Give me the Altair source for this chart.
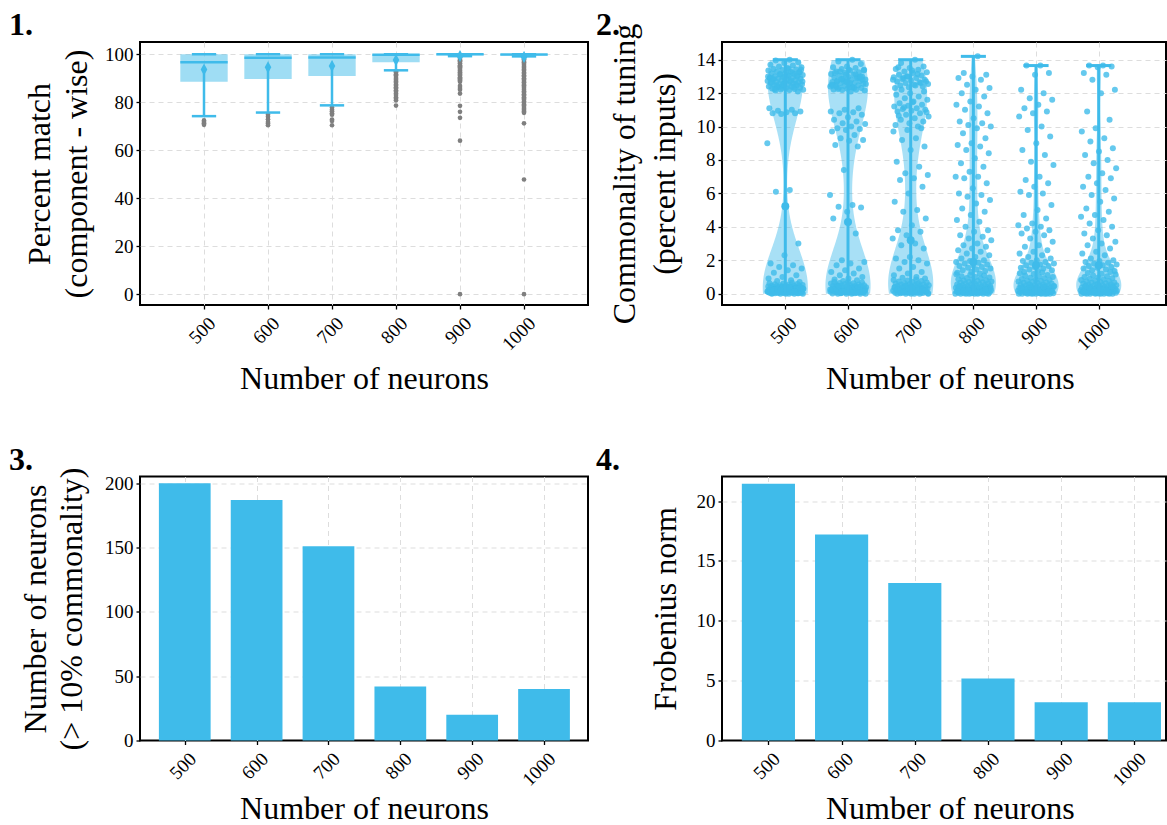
import altair as alt
import pandas as pd

FONT = "Liberation Serif"
BLUE = "#3FBBEA"
GRAY = "#7F7F7F"

NEURONS = [500, 600, 700, 800, 900, 1000]
PANEL_LABELS = ["1.", "2.", "3.", "4."]
X_TITLE = "Number of neurons"
P1_Y_TITLE = ["Percent match", "(component - wise)"]
P2_Y_TITLE = ["Commonality of tuning", "(percent inputs)"]
P3_Y_TITLE = ["Number of neurons", "(> 10% commonality)"]
P4_Y_TITLE = "Frobenius norm"

P1_TICKS = [0, 20, 40, 60, 80, 100]
P2_TICKS = [0, 2, 4, 6, 8, 10, 12, 14]
P3_TICKS = [0, 50, 100, 150, 200]
P4_TICKS = [0, 5, 10, 15, 20]

# ---------------- Panel 1: box plot summary (percent match) ----------------
P1_Q1 = [88.5, 89.7, 90.9, 96.7, 99.6, 99.5]
P1_Q3 = [100.0, 100.0, 100.0, 100.0, 100.0, 100.0]
P1_MEDIAN = [96.7, 98.5, 98.6, 99.8, 100.0, 99.9]
P1_MEAN = [93.6, 94.6, 95.1, 97.6, 99.3, 98.9]
P1_WHISKER_LO = [74.2, 75.7, 78.7, 93.3, 99.2, 99.1]
P1_WHISKER_HI = [100.0, 100.0, 100.0, 100.0, 100.0, 100.0]
P1_OUT_500 = [72.4, 71.8, 71.2, 70.6]
P1_OUT_600 = [74.8, 73.9, 72.9, 71.8, 71.1, 70.4]
P1_OUT_700 = [77.8, 76.9, 76.2, 75.4, 74.8, 72.8, 72.2, 70.4]
P1_OUT_800 = [92.9, 92.4, 91.7, 91.2, 90.5, 89.8, 89.3, 88.6, 88.1, 87.4, 86.9,
              86.2, 85.7, 85.0, 84.4, 83.6, 83.0, 82.1, 81.5, 80.8, 78.6]
P1_OUT_900 = [99.0, 98.6, 98.0, 97.5, 97.1, 96.4, 96.0, 95.4, 95.0, 94.6, 94.0,
              93.4, 93.0, 92.5, 91.9, 91.5, 91.0, 90.4, 90.0, 89.5, 89.1, 88.5,
              86.8, 85.9, 85.2, 83.6, 78.5, 76.0, 73.5, 64.0, 0.0]
P1_OUT_1000 = [99.0, 98.4, 97.9, 97.2, 96.7, 96.0, 95.5, 94.8, 94.3, 93.6, 93.1,
               92.4, 91.9, 91.2, 90.7, 90.0, 89.5, 88.8, 88.3, 87.6, 87.1, 86.4,
               85.9, 85.2, 84.6, 84.0, 83.3, 82.8, 82.1, 81.6, 81.0, 80.3, 79.8,
               79.1, 78.6, 78.0, 77.3, 76.8, 76.1, 75.6, 71.2, 47.8, 0.0]
P1_OUTLIERS = [P1_OUT_500, P1_OUT_600, P1_OUT_700, P1_OUT_800, P1_OUT_900, P1_OUT_1000]

# ---------------- Panel 2: commonality of tuning (points per network) ----------------
P2_500 = [14.0, 13.95, 13.85, 13.8, 13.7, 13.65, 13.6, 13.55, 13.5, 13.45, 13.42, 13.38,
          13.35, 13.3, 13.28, 13.25, 13.2, 13.18, 13.15, 13.1, 13.08, 13.05, 13.0, 12.98,
          12.95, 12.92, 12.9, 12.87, 12.85, 12.82, 12.8, 12.78, 12.75, 12.72, 12.7, 12.68,
          12.65, 12.62, 12.6, 12.58, 12.55, 12.52, 12.5, 12.48, 12.45, 12.42, 12.4, 12.38,
          12.35, 12.32, 12.3, 12.28, 12.25, 12.22, 12.2, 12.18, 12.15, 12.1, 12.6, 12.9,
          13.2, 12.4, 13.4, 13.1, 12.85, 12.55, 12.3, 13.0, 12.75, 12.45, 13.25, 12.95,
          12.65, 12.35, 13.15, 12.7, 13.45, 12.25, 13.05, 12.5,
          11.1, 11.0, 10.95, 10.9, 10.85, 10.8, 10.8, 10.75, 9.0, 6.2, 6.1, 3.0, 2.3, 1.8,
          1.7, 1.6, 1.5, 1.4, 1.25, 1.1, 1.0, 0.9, 0.8, 0.75, 0.7,
          0.0, 0.0, 0.0, 0.0, 0.0, 0.0, 0.02, 0.03, 0.04, 0.05, 0.06, 0.07, 0.08, 0.09, 0.1,
          0.1, 0.11, 0.12, 0.13, 0.14, 0.15, 0.15, 0.16, 0.17, 0.18, 0.19, 0.2, 0.2, 0.21,
          0.22, 0.23, 0.24, 0.25, 0.25, 0.26, 0.27, 0.28, 0.29, 0.3, 0.3, 0.31, 0.32, 0.33,
          0.34, 0.35, 0.36, 0.37, 0.38, 0.39, 0.4, 0.41, 0.42, 0.43, 0.44, 0.45, 0.46, 0.47,
          0.48, 0.5, 0.52, 0.54, 0.56, 0.58, 0.6, 0.62, 0.65, 0.05, 0.12, 0.18, 0.24, 0.33,
          0.08, 0.15, 0.22, 0.28, 0.02, 0.11, 0.19, 0.27, 0.36, 0.06, 0.14, 0.23, 0.31, 0.4,
          0.09, 0.17, 0.26, 0.35, 0.44, 0.03, 0.13, 0.21, 0.29, 0.38]
P2_600 = [14.0, 13.9, 13.75, 13.6, 13.55, 13.5, 13.45, 13.4, 13.35, 13.3, 13.25, 13.2,
          13.15, 13.1, 13.05, 13.0, 12.97, 12.93, 12.9, 12.86, 12.82, 12.8, 12.76, 12.72,
          12.7, 12.66, 12.62, 12.6, 12.56, 12.52, 12.5, 12.46, 12.42, 12.4, 12.36, 12.32,
          12.3, 12.26, 12.22, 12.2, 12.18, 12.15, 12.1, 12.7, 12.9, 13.1, 12.5, 12.3, 13.3,
          12.8, 13.4, 13.2, 12.95, 12.75, 12.55, 12.35, 12.25, 13.0, 12.65, 12.45, 13.15,
          12.85, 13.35, 12.6, 12.4,
          11.1, 11.0, 10.9, 10.85, 10.8, 10.7, 10.55, 10.4, 10.3, 10.2, 10.15, 10.0, 9.9,
          9.85, 9.8, 9.7, 9.5, 9.3, 9.2, 9.15, 8.9, 8.8, 7.4, 5.9, 5.3, 5.2, 5.15, 4.9, 4.5,
          3.6, 2.0, 1.9, 1.8, 1.7, 1.5, 1.4, 1.3, 1.2, 1.1, 1.0, 0.9, 0.85, 0.8, 0.75,
          0.0, 0.0, 0.0, 0.0, 0.0, 0.01, 0.03, 0.04, 0.05, 0.07, 0.08, 0.1, 0.1, 0.12, 0.13,
          0.14, 0.15, 0.16, 0.18, 0.19, 0.2, 0.21, 0.22, 0.24, 0.25, 0.26, 0.27, 0.29, 0.3,
          0.31, 0.33, 0.34, 0.35, 0.37, 0.38, 0.4, 0.41, 0.43, 0.44, 0.45, 0.47, 0.48, 0.5,
          0.51, 0.53, 0.55, 0.57, 0.6, 0.62, 0.64, 0.66, 0.68, 0.7, 0.06, 0.14, 0.23, 0.32,
          0.42, 0.09, 0.17, 0.26, 0.36, 0.02, 0.11, 0.2, 0.28, 0.39, 0.15, 0.25, 0.05, 0.46]
P2_700 = [14.0, 13.8, 13.6, 13.5, 13.45, 13.4, 13.3, 13.25, 13.2, 13.1, 13.05, 13.0,
          12.95, 12.9, 12.85, 12.8, 12.75, 12.7, 12.65, 12.6, 12.55, 12.5, 12.45, 12.4,
          12.35, 12.3, 13.15, 12.9, 12.7, 13.35, 13.55, 12.6, 13.0, 12.8, 12.45,
          12.2, 12.1, 12.0, 11.9, 11.8, 11.7, 11.6, 11.5, 11.4, 11.3, 11.25, 11.2, 11.1,
          11.05, 11.0, 10.95, 10.9, 10.8, 10.7, 10.6, 10.5, 10.4, 10.3, 10.2, 10.1, 10.0,
          11.15, 10.85, 11.45, 10.65,
          9.9, 9.8, 9.7, 9.3, 9.2, 8.8, 8.6, 7.9, 7.6, 7.2, 7.1, 6.9, 6.8, 6.4, 6.0, 5.5,
          5.0, 4.9, 4.5, 4.1, 3.8, 3.7, 3.5, 3.3, 3.0, 2.9, 2.7, 2.2, 2.1, 2.0, 1.9, 1.8,
          1.6, 1.5, 1.3, 1.2, 1.1, 1.0, 0.95, 0.9,
          0.0, 0.0, 0.0, 0.0, 0.0, 0.0, 0.02, 0.04, 0.05, 0.06, 0.08, 0.09, 0.1, 0.12, 0.13,
          0.15, 0.16, 0.17, 0.19, 0.2, 0.22, 0.23, 0.25, 0.26, 0.28, 0.29, 0.3, 0.32, 0.33,
          0.35, 0.36, 0.38, 0.4, 0.41, 0.43, 0.45, 0.46, 0.48, 0.5, 0.52, 0.54, 0.56, 0.58,
          0.6, 0.62, 0.64, 0.66, 0.69, 0.72, 0.75, 0.78, 0.81, 0.84, 0.07, 0.14, 0.21, 0.27,
          0.34, 0.44, 0.03, 0.11, 0.18, 0.24, 0.31, 0.39, 0.53, 0.12, 0.2, 0.37]
P2_800 = [14.2, 13.2, 13.1, 13.0, 12.9, 12.8, 12.5, 12.3, 12.2, 12.0, 11.8, 11.5, 11.3,
          11.2, 11.0, 10.8, 10.5, 10.3, 10.2, 10.1, 10.0, 9.9, 9.6, 9.3, 9.0, 8.9, 8.8, 8.6,
          8.4, 8.1, 7.8, 7.6, 7.3, 7.0, 7.0, 6.9, 6.6, 6.3, 6.0, 5.9, 5.8, 5.6, 5.4, 5.1,
          4.9, 4.7, 4.4, 4.3, 4.0, 3.8, 3.7, 3.5, 3.4, 3.3, 3.2, 3.0, 2.9, 2.8, 2.7, 2.6,
          2.5, 2.4, 2.3, 2.2, 2.1, 2.0, 1.95, 1.9, 1.85, 1.8, 1.75, 1.7, 1.65, 1.6, 1.55,
          1.5, 1.45, 1.4, 1.35, 1.3, 1.25, 1.2,
          0.0, 0.0, 0.0, 0.0, 0.0, 0.0, 0.0, 0.0, 0.02, 0.03, 0.04, 0.05, 0.06, 0.07, 0.08,
          0.09, 0.1, 0.11, 0.12, 0.13, 0.14, 0.15, 0.16, 0.17, 0.18, 0.19, 0.2, 0.21, 0.22,
          0.23, 0.24, 0.25, 0.26, 0.27, 0.28, 0.29, 0.3, 0.31, 0.32, 0.34, 0.35, 0.36, 0.38,
          0.39, 0.4, 0.42, 0.43, 0.45, 0.46, 0.48, 0.5, 0.52, 0.54, 0.55, 0.57, 0.6, 0.62,
          0.64, 0.66, 0.68, 0.7, 0.72, 0.75, 0.78, 0.8, 0.83, 0.86, 0.9, 0.93, 0.96, 1.0,
          1.04, 1.08, 1.12, 1.16, 0.05, 0.15, 0.25, 0.35, 0.45, 0.12, 0.22, 0.33, 0.08,
          0.18, 0.28, 0.03, 0.14]
P2_900 = [13.65, 13.65, 13.2, 13.1, 12.2, 12.0, 11.7, 11.6, 11.3, 11.1, 10.9, 10.8, 10.6,
          10.0, 9.8, 9.4, 9.0, 8.6, 8.3, 7.9, 7.7, 7.0, 6.8, 6.6, 6.4, 6.1, 6.0, 5.9, 5.3,
          5.0, 4.7, 4.5, 4.2, 4.1, 4.0, 3.9, 3.8, 3.7, 3.6, 3.5, 3.3, 3.1, 2.9, 2.8, 2.6,
          2.5, 2.4, 2.3, 2.2, 2.1, 2.0, 1.95, 1.9, 1.85, 1.8, 1.75, 1.7, 1.65, 1.6, 1.55,
          1.5, 1.45, 1.4, 1.35, 1.3,
          0.0, 0.0, 0.0, 0.0, 0.0, 0.0, 0.0, 0.0, 0.0, 0.01, 0.02, 0.04, 0.05, 0.06, 0.07,
          0.08, 0.1, 0.1, 0.11, 0.12, 0.14, 0.15, 0.16, 0.17, 0.18, 0.2, 0.21, 0.22, 0.23,
          0.24, 0.25, 0.27, 0.28, 0.29, 0.3, 0.32, 0.33, 0.34, 0.36, 0.37, 0.39, 0.4, 0.42,
          0.43, 0.45, 0.47, 0.48, 0.5, 0.52, 0.54, 0.56, 0.58, 0.6, 0.63, 0.65, 0.67, 0.7,
          0.73, 0.76, 0.79, 0.82, 0.85, 0.88, 0.92, 0.95, 0.99, 1.03, 1.07, 1.12, 1.17, 1.22,
          1.26, 0.06, 0.13, 0.19, 0.26, 0.31, 0.38, 0.44, 0.03, 0.09, 0.16, 0.23, 0.35,
          0.41, 0.51, 0.12, 0.2]
P2_1000 = [13.65, 13.65, 13.6, 13.55, 13.2, 13.1, 12.8, 12.2, 12.0, 10.9, 10.4, 9.9, 9.7,
           9.3, 9.1, 8.7, 8.5, 8.3, 8.0, 7.8, 7.5, 7.2, 7.0, 6.9, 6.6, 6.4, 6.2, 5.9, 5.7,
           5.5, 5.1, 4.9, 4.7, 4.6, 4.4, 4.2, 4.0, 3.8, 3.6, 3.5, 3.3, 3.1, 3.0, 2.9, 2.7,
           2.5, 2.4, 2.3, 2.1, 2.0, 1.95, 1.9, 1.85, 1.8, 1.75, 1.7, 1.65, 1.6, 1.55, 1.5,
           1.45, 1.4, 1.35,
           0.0, 0.0, 0.0, 0.0, 0.0, 0.0, 0.0, 0.0, 0.01, 0.02, 0.03, 0.05, 0.06, 0.07, 0.08,
           0.09, 0.1, 0.11, 0.12, 0.13, 0.15, 0.16, 0.17, 0.18, 0.19, 0.2, 0.22, 0.23, 0.24,
           0.25, 0.26, 0.28, 0.29, 0.3, 0.31, 0.33, 0.34, 0.35, 0.37, 0.38, 0.4, 0.41, 0.43,
           0.44, 0.46, 0.48, 0.5, 0.52, 0.54, 0.56, 0.58, 0.6, 0.62, 0.65, 0.67, 0.7, 0.73,
           0.76, 0.79, 0.82, 0.85, 0.89, 0.92, 0.96, 1.0, 1.04, 1.09, 1.14, 1.19, 1.24, 1.3,
           0.04, 0.12, 0.21, 0.27, 0.32, 0.39, 0.45, 0.08, 0.14, 0.18, 0.24, 0.36, 0.42,
           0.53, 0.1, 0.2]
P2_VALUES = [P2_500, P2_600, P2_700, P2_800, P2_900, P2_1000]
P2_MEAN = [5.23, 4.29, 3.19, 1.9, 1.7, 1.7]
P2_MIN = [0.0, 0.0, 0.0, 0.0, 0.0, 0.0]
P2_MAX = [14.0, 14.0, 14.0, 14.2, 13.65, 13.65]

# ---------------- Panel 3 / 4: bars ----------------
P3_COUNTS = [200, 187, 151, 42, 20, 40]
P4_NORMS = [21.45, 17.2, 13.15, 5.18, 3.2, 3.2]

# ---------------- data frames ----------------
p1_stats = pd.DataFrame({"n": NEURONS, "q1": P1_Q1, "q3": P1_Q3, "med": P1_MEDIAN,
                         "mean": P1_MEAN, "wlo": P1_WHISKER_LO, "whi": P1_WHISKER_HI})
p1_out = pd.DataFrame([{"n": n, "pct": v} for n, vals in zip(NEURONS, P1_OUTLIERS) for v in vals])
p2_pts = pd.DataFrame([{"n": n, "pct": v} for n, vals in zip(NEURONS, P2_VALUES) for v in vals])
p2_stats = pd.DataFrame({"n": NEURONS, "mean": P2_MEAN, "vmin": P2_MIN, "vmax": P2_MAX})
p3_df = pd.DataFrame({"n": NEURONS, "v": P3_COUNTS})
p4_df = pd.DataFrame({"n": NEURONS, "v": P4_NORMS})

GRID_KW = dict(grid=True, gridDash=[5, 4], gridColor="#dddddd", gridWidth=1)
HIDE_ZERO_GRID = {"condition": {"test": "datum.value === 0", "value": 0}, "value": 1}


def x_axis(title_y, title_x=None):
    kw = dict(values=NEURONS, format="d", title=X_TITLE, labelAngle=-45,
              labelAlign="right", labelBaseline="middle", labelPadding=11, labelOffset=8,
              labelOverlap=False, labelFlush=False, tickSize=4, domain=False,
              titleY=title_y, titleBaseline="alphabetic", titleAlign="center", **GRID_KW)
    if title_x is not None:
        kw["titleX"] = title_x
    return alt.Axis(**kw)


def y_axis(values, title, title_x, h, lh=38, hide_zero=False):
    kw = dict(values=values, format="d", title=title, titleX=title_x, titleY=h / 2,
              titleAngle=270, titleAlign="center", titleBaseline="alphabetic",
              titleLineHeight=lh, labelPadding=3, tickSize=4, domain=False,
              labelFlush=False, labelOverlap=False, **GRID_KW)
    if hide_zero:
        kw["gridOpacity"] = HIDE_ZERO_GRID
    return alt.Axis(**kw)


def label_layer(text, dx, dy):
    return alt.Chart(pd.DataFrame({"label": [text]})).mark_text(
        font=FONT, fontSize=32, fontWeight="bold", align="left", baseline="top",
        color="black").encode(x=alt.value(dx), y=alt.value(dy), text="label:N")


# ---------------- Panel 1 ----------------
W1, H1 = 448, 263
xs1 = alt.Scale(domain=[400, 1100], nice=False, zero=False)
ys1 = alt.Scale(domain=[-4.5, 105.1], nice=False, zero=False)
xa1 = x_axis(83)
ya1 = y_axis(P1_TICKS, P1_Y_TITLE, -91, H1, 37)


def X1(f):
    return alt.X(f, type="quantitative", scale=xs1, axis=xa1)


def Y1(f):
    return alt.Y(f, type="quantitative", scale=ys1, axis=ya1)


base1 = alt.Chart(p1_stats).transform_calculate(
    lo="datum.n - 37", hi="datum.n + 37", clo="datum.n - 19", chi="datum.n + 19")
box = base1.mark_bar(color=BLUE, opacity=0.5).encode(x=X1("lo"), x2="hi", y=Y1("q1"), y2="q3")
outl = alt.Chart(p1_out).mark_circle(color=GRAY, size=22, opacity=1).encode(x=X1("n"), y=Y1("pct"))
whisk = base1.mark_rule(color=BLUE, strokeWidth=2.5).encode(x=X1("n"), y=Y1("wlo"), y2="mean")
cap_lo = base1.mark_rule(color=BLUE, strokeWidth=2.5).encode(x=X1("clo"), x2="chi", y=Y1("wlo"))
cap_hi = base1.mark_rule(color=BLUE, strokeWidth=2.5).encode(x=X1("clo"), x2="chi", y=Y1("whi"))
med = base1.mark_rule(color=BLUE, strokeWidth=2.5).encode(x=X1("lo"), x2="hi", y=Y1("med"))
mean1 = base1.mark_point(shape="M0,-1L0.55,0L0,1L-0.55,0Z", filled=True, size=144,
                         color=BLUE, opacity=1).encode(x=X1("n"), y=Y1("mean"))
p1 = alt.layer(box, outl, whisk, cap_lo, cap_hi, med, mean1,
               label_layer(PANEL_LABELS[0], -131, -32)).properties(width=W1, height=H1)

# ---------------- Panel 2 ----------------
W2, H2 = 444, 263
xs2 = alt.Scale(domain=[399, 1107.3], nice=False, zero=False)
ys2 = alt.Scale(domain=[-0.68, 15.06], nice=False, zero=False)
xa2 = x_axis(83, 227.8)
ya2 = y_axis(P2_TICKS, P2_Y_TITLE, -88, H2, 40)


def X2(f):
    return alt.X(f, type="quantitative", scale=xs2, axis=xa2)


def Y2(f):
    return alt.Y(f, type="quantitative", scale=ys2, axis=ya2)


violin = alt.Chart(p2_pts).transform_joinaggregate(
    vmax="max(pct)", groupby=["n"]
).transform_density(
    "pct", as_=["pct", "density"], groupby=["n", "vmax"], steps=200
).transform_filter(
    "datum.pct <= datum.vmax"
).transform_joinaggregate(
    dmax="max(density)", groupby=["n"]
).transform_calculate(
    lo="datum.n - 36 * datum.density / datum.dmax",
    hi="datum.n + 36 * datum.density / datum.dmax"
).mark_area(orient="horizontal", color=BLUE, opacity=0.45).encode(
    y=Y2("pct"), x=X2("lo"), x2="hi", detail="n:N")

pts = alt.Chart(p2_pts).transform_window(
    rn="row_number()", groupby=["n"]
).transform_calculate(
    jx="datum.n + ((datum.rn * 0.6180339887) % 1 - 0.5) * 58"
).mark_circle(color=BLUE, size=36, opacity=0.8).encode(x=X2("jx"), y=Y2("pct"))

base2 = alt.Chart(p2_stats).transform_calculate(clo="datum.n - 20", chi="datum.n + 20")
vline = base2.mark_rule(color=BLUE, strokeWidth=3).encode(x=X2("n"), y=Y2("vmin"), y2="vmax")
vcap_hi = base2.mark_rule(color=BLUE, strokeWidth=3).encode(x=X2("clo"), x2="chi", y=Y2("vmax"))
vcap_lo = base2.mark_rule(color=BLUE, strokeWidth=3).encode(x=X2("clo"), x2="chi", y=Y2("vmin"))
vmean = base2.mark_circle(color=BLUE, size=64, opacity=1).encode(x=X2("n"), y=Y2("mean"))
p2 = alt.layer(violin, pts, vline, vcap_hi, vcap_lo, vmean,
               label_layer(PANEL_LABELS[1], -126, -32)).properties(width=W2, height=H2)

# ---------------- Panel 3 ----------------
W3, H3 = 448, 264
xs3 = alt.Scale(domain=[437.7, 1061.2], nice=False, zero=False)
ys3 = alt.Scale(domain=[0, 205.2], nice=False, zero=False)
bars3 = alt.Chart(p3_df).transform_calculate(
    lo="datum.n - 36", hi="datum.n + 36", base="0").mark_bar(color=BLUE).encode(
    x=alt.X("lo:Q", scale=xs3, axis=x_axis(78)), x2="hi",
    y=alt.Y("v:Q", scale=ys3,
            axis=y_axis(P3_TICKS, P3_Y_TITLE, -95, H3, 36, hide_zero=True)), y2="base:Q")
p3 = alt.layer(bars3, label_layer(PANEL_LABELS[2], -131, -32)).properties(width=W3, height=H3)

# ---------------- Panel 4 ----------------
W4, H4 = 444, 264
xs4 = alt.Scale(domain=[436.6, 1043.2], nice=False, zero=False)
ys4 = alt.Scale(domain=[0, 22.05], nice=False, zero=False)
bars4 = alt.Chart(p4_df).transform_calculate(
    lo="datum.n - 36.3", hi="datum.n + 36.3", base="0").mark_bar(color=BLUE).encode(
    x=alt.X("lo:Q", scale=xs4, axis=x_axis(78, 227.8)), x2="hi",
    y=alt.Y("v:Q", scale=ys4,
            axis=y_axis(P4_TICKS, P4_Y_TITLE, -47, H4, 38, hide_zero=True)), y2="base:Q")
p4 = alt.layer(bars4, label_layer(PANEL_LABELS[3], -126, -32)).properties(width=W4, height=H4)

chart = alt.concat(
    p1, p2, p3, p4, columns=2, spacing={"row": 171.5, "column": 134}, bounds="flush"
).properties(
    padding={"left": 8, "top": 8, "right": 0, "bottom": 0}
).configure(font=FONT).configure_view(
    stroke="black", strokeWidth=2
).configure_axis(
    labelFont=FONT, labelFontSize=19, labelColor="black",
    titleFont=FONT, titleFontSize=32, titleFontWeight="normal", titleColor="black",
    tickColor="black", tickWidth=1.3
)

chart.save("out.html", embed_options={"renderer": "svg", "actions": False})
